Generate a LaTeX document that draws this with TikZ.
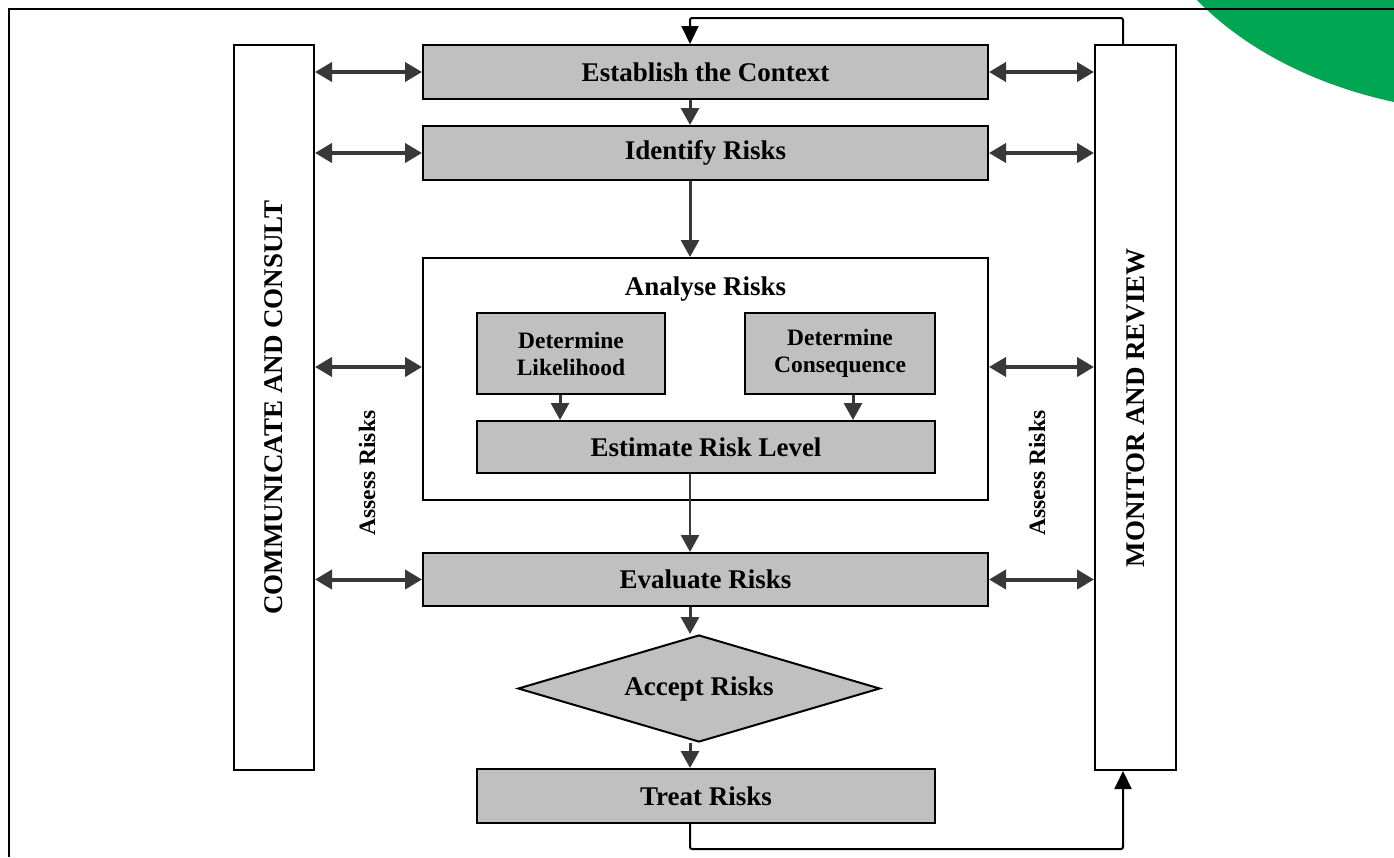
\documentclass[tikz,border=0pt]{standalone}
\usepackage{fontspec}
\setmainfont{Liberation Serif}
\usetikzlibrary{arrows.meta,shapes.geometric,calc}
\definecolor{boxgray}{HTML}{C0C0C0}
\definecolor{arrowgray}{HTML}{383838}
\definecolor{cornergreen}{HTML}{00A651}

\begin{document}
\begin{tikzpicture}[x=1pt,y=-1pt,
    stepbox/.style={draw=black, line width=2pt, fill=boxgray, inner sep=0pt,
      align=center, font=\fontsize{27}{31}\selectfont\bfseries},
    subbox/.style={stepbox, font=\fontsize{23.5}{27}\selectfont\bfseries},
    tallbox/.style={draw=black, line width=2pt, fill=white, inner sep=0pt},
    sidelabel/.style={rotate=90, font=\fontsize{27}{31}\selectfont\bfseries},
    assess/.style={rotate=90, font=\fontsize{23.5}{27}\selectfont\bfseries},
    both/.style={draw=arrowgray, line width=4pt,
      {Triangle[length=17pt,width=19pt]}-{Triangle[length=17pt,width=19pt]}},
    flow/.style={draw=arrowgray, line width=3pt, -{Triangle[length=17pt,width=18pt]}},
    loopline/.style={draw=black, line width=2pt, rounded corners=2pt,
      -{Triangle[length=18pt,width=17pt]}}]
\useasboundingbox (0,0) rectangle (1394,857);
\fill[cornergreen] (1500,-150) ellipse [x radius=369, y radius=263];
\draw[line width=2.5pt] (9,857) -- (9,9) -- (1394,9);

% side columns
\node[tallbox, minimum width=80pt, minimum height=725pt] (cc) at (274,407.5) {};
\node[sidelabel] (cclabel) at (cc) {COMMUNICATE AND CONSULT};
\node[tallbox, minimum width=81pt, minimum height=725pt] (mr) at (1135.5,407.5) {};
\node[sidelabel] (mrlabel) at (mr) {MONITOR AND REVIEW};

% process steps
\node[stepbox, minimum width=565pt, minimum height=54pt] (est) at (705.5,72) {Establish the Context};
\node[stepbox, minimum width=565pt, minimum height=54pt] (ident) at (705.5,153) {Identify Risks};
\node[tallbox, minimum width=565pt, minimum height=242pt] (frame) at (705.5,379) {};
\node[font=\fontsize{27}{31}\selectfont\bfseries] (anltitle) at (705.5,289) {Analyse Risks};
\node[subbox, minimum width=188pt, minimum height=81pt] (lik) at (571,353.5) {Determine\\Likelihood};
\node[subbox, minimum width=190pt, minimum height=81pt] (cons) at (840,353.5) {Determine\\Consequence};
\node[stepbox, minimum width=458pt, minimum height=52pt] (estm) at (706,447) {Estimate Risk Level};
\node[stepbox, minimum width=565pt, minimum height=53pt] (eval) at (705.5,579.5) {Evaluate Risks};
\node[stepbox, diamond, aspect=3.4, minimum width=362pt, minimum height=107pt] (accept) at (699,688.5) {Accept Risks};
\node[stepbox, minimum width=458pt, minimum height=54pt] (treat) at (706,796) {Treat Risks};

\node[assess] (assessl) at (367,473) {Assess Risks};
\node[assess] (assessr) at (1037,473) {Assess Risks};

% links to the side columns
\coordinate (midrow) at (0,367);
\draw[both] (cc.east |- est) -- (est.west);
\draw[both] (est.east) -- (mr.west |- est);
\draw[both] (cc.east |- ident) -- (ident.west);
\draw[both] (ident.east) -- (mr.west |- ident);
\draw[both] (cc.east |- midrow) -- (frame.west |- midrow);
\draw[both] (frame.east |- midrow) -- (mr.west |- midrow);
\draw[both] (cc.east |- eval) -- (eval.west);
\draw[both] (eval.east) -- (mr.west |- eval);

% main flow
\coordinate (spine) at (690,0);
\draw[flow] (est.south -| spine) -- (ident.north -| spine);
\draw[flow] (ident.south -| spine) -- (frame.north -| spine);
\draw[flow] ($(lik.south)+(-11,0)$) -- ($(lik.south |- estm.north)+(-11,0)$);
\draw[flow] ($(cons.south)+(13,0)$) -- ($(cons.south |- estm.north)+(13,0)$);
\draw[flow, line width=2.5pt] (estm.south -| spine) -- (eval.north -| spine);
\draw[flow] (eval.south -| spine) -- (accept.north -| spine);
\draw[flow] (accept.south -| spine) -- (treat.north -| spine);

% feedback loops
\coordinate (loopx) at (1123,0);
\coordinate (topy) at (0,18);
\coordinate (boty) at (0,849);
\draw[loopline] (mr.north -| loopx) |- (topy -| spine) -- (est.north -| spine);
\draw[loopline] (treat.south -| spine) |- (boty -| loopx) -- (mr.south -| loopx);
\end{tikzpicture}
\end{document}
